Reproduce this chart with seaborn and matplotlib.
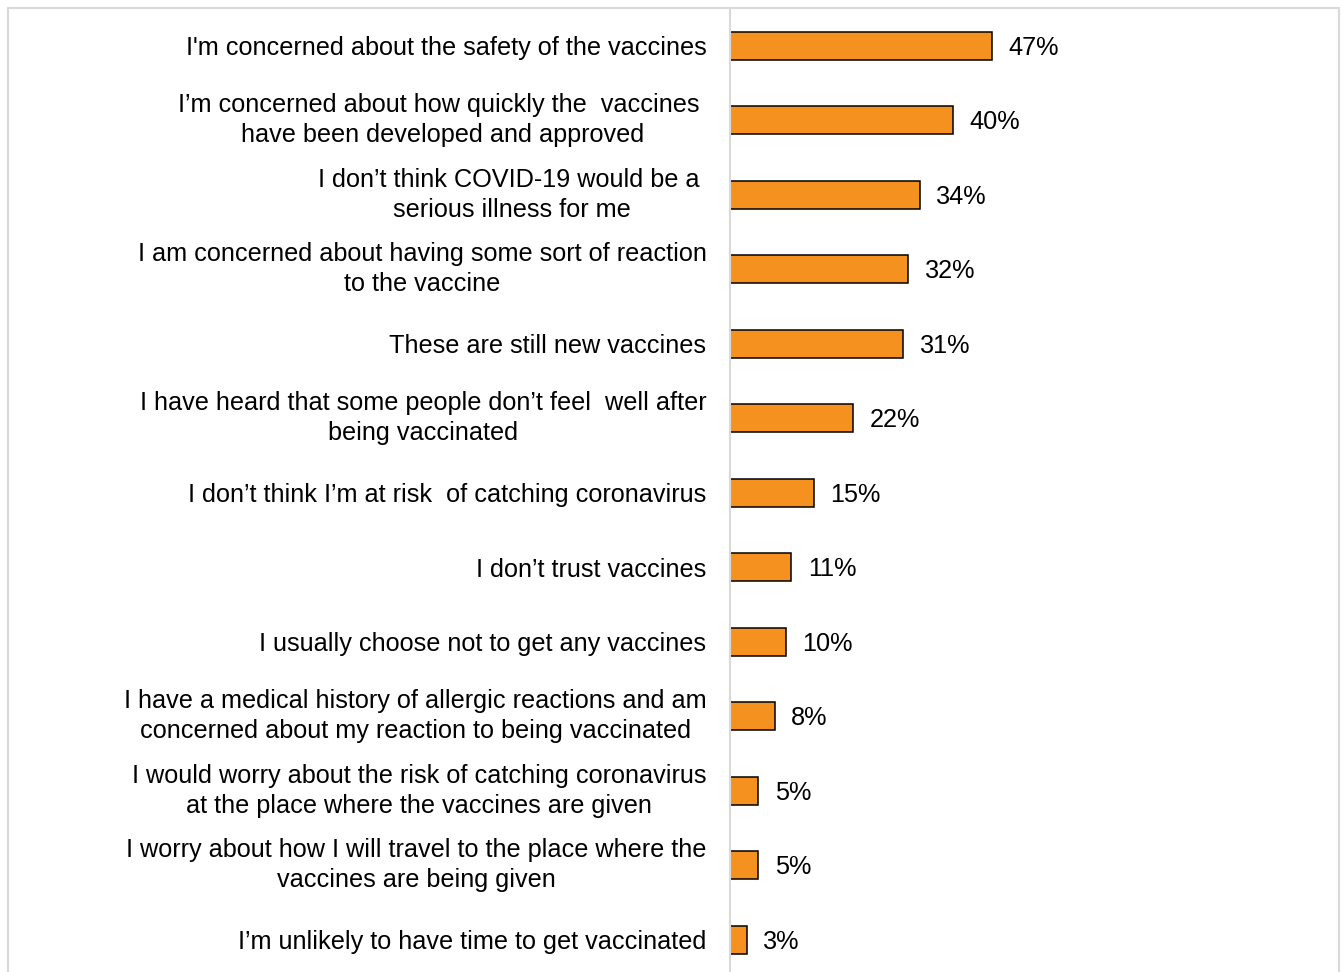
import matplotlib
matplotlib.use("Agg")
import matplotlib.pyplot as plt
import seaborn as sns
import pandas as pd
from matplotlib.patches import Rectangle

reasons = [
    "I'm concerned about the safety of the vaccines",
    "I\u2019m concerned about how quickly the  vaccines \nhave been developed and approved",
    "I don\u2019t think COVID-19 would be a \nserious illness for me",
    "I am concerned about having some sort of reaction\nto the vaccine",
    "These are still new vaccines",
    "I have heard that some people don\u2019t feel  well after\nbeing vaccinated",
    "I don\u2019t think I\u2019m at risk  of catching coronavirus",
    "I don\u2019t trust vaccines",
    "I usually choose not to get any vaccines",
    "I have a medical history of allergic reactions and am\nconcerned about my reaction to being vaccinated",
    "I would worry about the risk of catching coronavirus\nat the place where the vaccines are given",
    "I worry about how I will travel to the place where the\nvaccines are being given",
    "I\u2019m unlikely to have time to get vaccinated",
]
percent = [47, 40, 34, 32, 31, 22, 15, 11, 10, 8, 5, 5, 3]

df = pd.DataFrame({"reason": reasons, "percent": percent})

sns.set_theme(style="white")
plt.rcParams["font.family"] = ["Liberation Sans", "DejaVu Sans"]

W, H = 1343, 972
FS = 18.15
fig = plt.figure(figsize=(W / 100, H / 100), dpi=100)

x0, x1 = 730, 1338
y_top, y_bot = 8.5, 977
ax = fig.add_axes([x0 / W, (H - y_bot) / H, (x1 - x0) / W, (y_bot - y_top) / H])

sns.barplot(data=df, y="reason", x="percent", orient="h", color="#F5921F",
            saturation=1, edgecolor="black", linewidth=1.1, width=0.375, ax=ax)

ax.set_xlim(0, (x1 - x0) / 5.575)
ax.set_ylim(len(reasons) - 0.5, -0.5)
ax.set_xlabel("")
ax.set_ylabel("")
ax.set_xticks([])
ax.tick_params(axis="y", length=0, pad=17, labelsize=FS, labelcolor="black")
for t in ax.get_yticklabels():
    t.set_multialignment("center")
    t.set_linespacing(1.32)
    t.set_fontsize(FS)
    if "\n" in t.get_text():
        t.set_verticalalignment("center")

for c in ax.containers:
    anns = ax.bar_label(c, labels=[f"{v}%" for v in percent], padding=12,
                        fontsize=FS, color="black")
    for a in anns:
        a.xyann = (12, -1.5)

for s in ["top", "right", "bottom"]:
    ax.spines[s].set_visible(False)
ax.spines["left"].set_color("#d9d9d9")
ax.spines["left"].set_linewidth(1.5)
ax.patch.set_alpha(0)

fig.patches.append(Rectangle((7.5 / W, -0.05), (1338.5 - 7.5) / W, 1.05 - 8.5 / H,
                             transform=fig.transFigure, fill=False,
                             edgecolor="#d9d9d9", linewidth=1.5, zorder=-1))

fig.savefig("out.png", dpi=100, facecolor="white")
